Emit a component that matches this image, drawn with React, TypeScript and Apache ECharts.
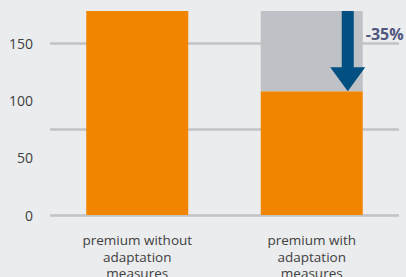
import React, { useEffect, useRef } from "react";
import * as echarts from "echarts";

const categories = ["premium without\nadaptation\nmeasures", "premium with\nadaptation\nmeasures"];
const premiumValues = [178, 108];
const reductionValues = [0, 70];
const gridLevels = [0, 75, 150];
const changeLabel = "-35%";
const arrowData = [[1, 178, 108]];

export default function App() {
  const ref = useRef<HTMLDivElement>(null);
  useEffect(() => {
    const chart = echarts.init(ref.current!, null, { renderer: "svg" });
    chart.setOption({
      animation: false,
      backgroundColor: "#ebecee",
      textStyle: { fontFamily: "Open Sans" },
      grid: { left: 50, right: 7, top: 8.6, bottom: 62, containLabel: false, outerBoundsMode: "none" },
      xAxis: {
        type: "category",
        data: categories,
        axisLine: { show: false },
        axisTick: { show: false },
        axisLabel: { color: "#404040", fontSize: 13.5, lineHeight: 16.5, margin: 17, fontFamily: "Open Sans" },
      },
      yAxis: {
        type: "value",
        min: 0,
        max: 180,
        interval: 50,
        axisLine: { show: false },
        axisTick: { show: false },
        splitLine: { show: false },
        axisLabel: { color: "#404040", fontSize: 14, margin: 17, showMaxLabel: false, fontFamily: "Open Sans" },
      },
      series: [
        {
          type: "line",
          data: [],
          z: 0,
          markLine: {
            silent: true,
            z: 0,
            symbol: "none",
            label: { show: false },
            lineStyle: { color: "#c2c3c7", width: 2.5, type: "solid" },
            data: gridLevels.map((v) => ({ yAxis: v })),
          },
        },
        {
          type: "bar",
          stack: "s",
          z: 3,
          barWidth: 102,
          itemStyle: { color: "#f28500" },
          data: premiumValues,
        },
        {
          type: "bar",
          stack: "s",
          z: 3,
          barWidth: 102,
          itemStyle: { color: "#bec1c5" },
          data: reductionValues,
        },
        {
          type: "custom",
          z: 6,
          data: arrowData,
          renderItem: (params: any, api: any) => {
            const top = api.coord([api.value(0), api.value(1)]);
            const bot = api.coord([api.value(0), api.value(2)]);
            const cx = top[0] + 36;
            const headH = 24;
            const shaftW = 6;
            const headW = 17.5;
            const headTop = bot[1] - headH;
            return {
              type: "group",
              children: [
                {
                  type: "polygon",
                  shape: {
                    points: [
                      [cx - shaftW, top[1]],
                      [cx + shaftW, top[1]],
                      [cx + shaftW, headTop],
                      [cx + headW, headTop],
                      [cx, bot[1]],
                      [cx - headW, headTop],
                      [cx - shaftW, headTop],
                    ],
                  },
                  style: { fill: "#024f82" },
                },
                {
                  type: "text",
                  x: cx + 18,
                  y: top[1] + 23,
                  style: {
                    text: changeLabel,
                    fill: "#50577f",
                    fontSize: 16,
                    fontWeight: "bold",
                    fontFamily: "Open Sans",
                    verticalAlign: "middle",
                    align: "left",
                  },
                },
              ],
            };
          },
        },
      ],
    });
    return () => chart.dispose();
  }, []);
  return <div ref={ref} style={{ position: "fixed", left: 0, top: 0, width: 406, height: 277 }} />;
}
